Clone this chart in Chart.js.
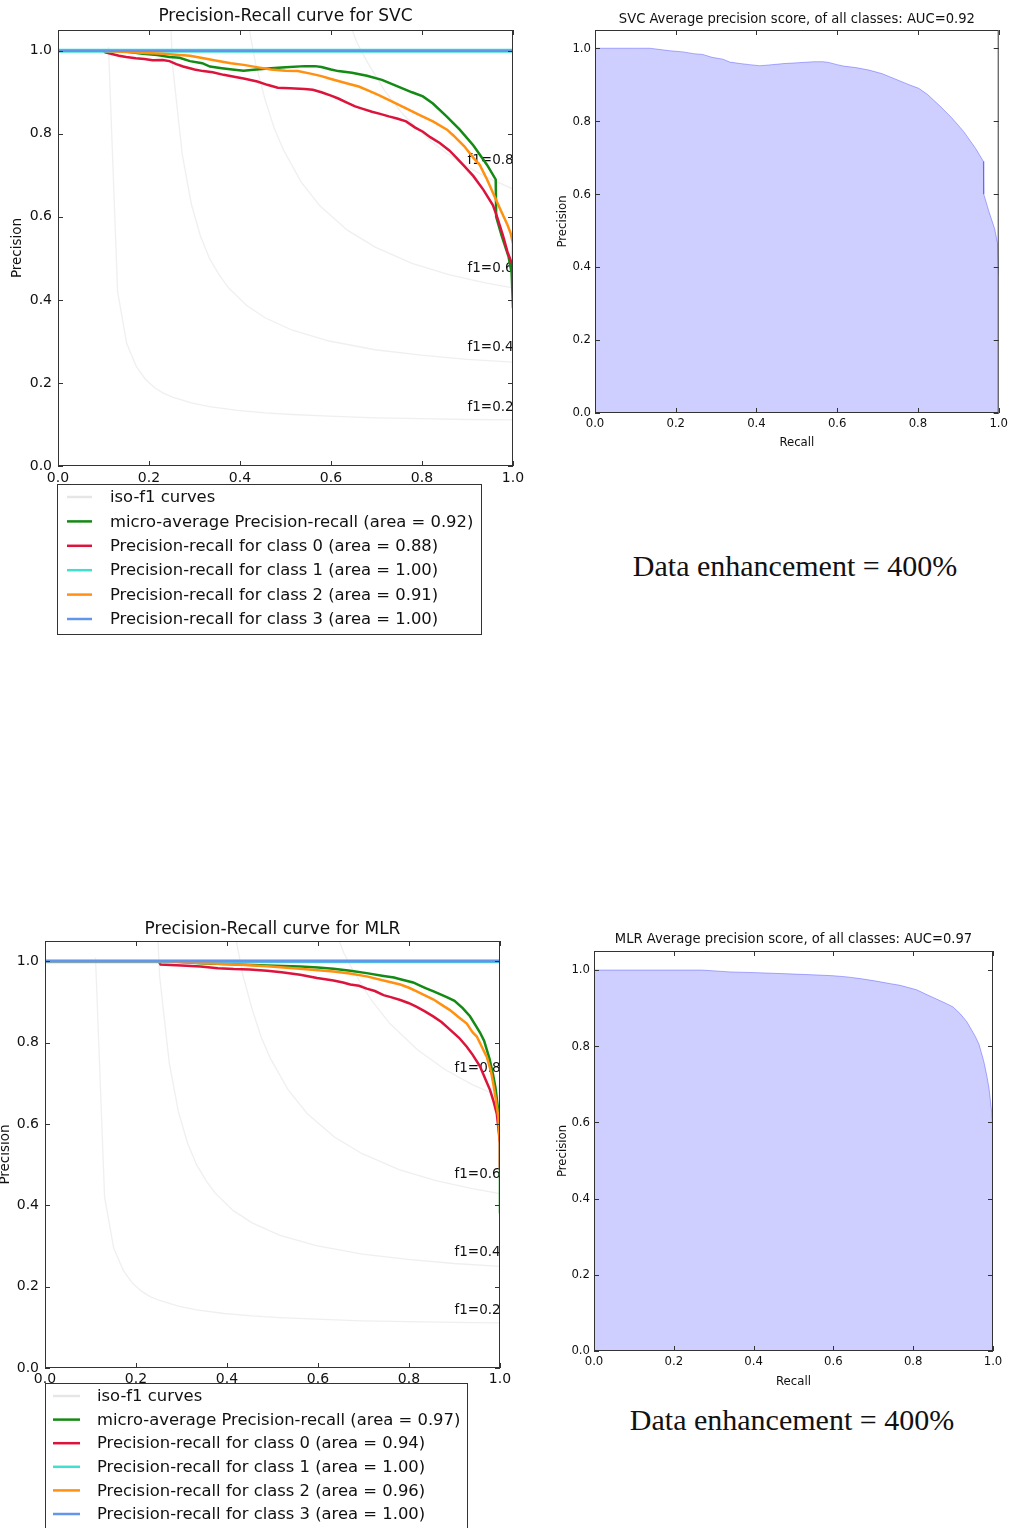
<!DOCTYPE html>
<html>
<head>
<meta charset="utf-8">
<script src="https://cdn.jsdelivr.net/npm/chart.js@4.4.1/dist/chart.umd.min.js"></script>
<style>
  body { margin: 0; background: #fff; }
  canvas { position: absolute; }
  .note {
    position: absolute; width: 400px; text-align: center;
    font-family: 'Liberation Serif', 'Times New Roman', serif;
    font-size: 30px; line-height: 34px; color: #111; white-space: nowrap;
  }
</style>
</head>
<body>
<canvas id="svcCurves" width="530" height="640" style="left:0;top:0"></canvas>
<canvas id="svcArea" width="471" height="460" style="left:540px;top:0"></canvas>
<canvas id="mlrCurves" width="520" height="618" style="left:0;top:910px"></canvas>
<canvas id="mlrArea" width="471" height="490" style="left:540px;top:910px"></canvas>
<div class="note" style="left:595px;top:549px">Data enhancement = 400%</div>
<div class="note" style="left:592px;top:1403px">Data enhancement = 400%</div>
<script>
// axis ticks (recall and precision share them)
const tickValues = [0, 0.2, 0.4, 0.6, 0.8, 1.0];

// iso-f1 curves, [recall, precision], same in both PR plots
const isoF1_02 = [[0.111,1.009],[0.131,0.42],[0.151,0.295],[0.172,0.24],[0.192,0.209],[0.212,0.189],[0.232,0.175],[0.252,0.166],[0.293,0.152],[0.333,0.143],[0.394,0.134],[0.455,0.128],[0.515,0.124],[0.596,0.12],[0.697,0.116],[0.798,0.114],[0.899,0.112],[1.0,0.111]];
const isoF1_04 = [[0.212,3.53],[0.232,1.44],[0.252,0.963],[0.273,0.751],[0.293,0.631],[0.313,0.554],[0.333,0.5],[0.354,0.461],[0.374,0.43],[0.414,0.387],[0.455,0.357],[0.515,0.327],[0.596,0.301],[0.697,0.28],[0.798,0.267],[0.899,0.257],[1.0,0.25]];
const isoF1_06 = [[0.313,7.2],[0.333,3.0],[0.354,1.98],[0.374,1.52],[0.394,1.26],[0.414,1.09],[0.434,0.97],[0.455,0.883],[0.475,0.814],[0.495,0.762],[0.535,0.683],[0.576,0.626],[0.636,0.568],[0.697,0.527],[0.778,0.488],[0.859,0.461],[0.939,0.441],[1.0,0.429]];
const isoF1_08 = [[0.414,11.7],[0.434,5.06],[0.455,3.33],[0.475,2.54],[0.495,2.08],[0.515,1.79],[0.535,1.58],[0.556,1.43],[0.576,1.31],[0.596,1.22],[0.616,1.14],[0.636,1.08],[0.657,1.02],[0.677,0.978],[0.717,0.905],[0.758,0.847],[0.818,0.783],[0.879,0.734],[0.939,0.697],[1.0,0.667]];
const isoLabels = ['f1=0.2', 'f1=0.4', 'f1=0.6', 'f1=0.8'];
const isoLabelY = [0.132, 0.276, 0.466, 0.728];
const isoLabelX = 0.9;

// SVC precision-recall, [recall, precision]
const svcMicro = [[0,1],[0.1,1],[0.136,1.0],[0.186,0.993],[0.218,0.99],[0.245,0.985],[0.267,0.983],[0.29,0.975],[0.317,0.97],[0.334,0.962],[0.36,0.958],[0.383,0.955],[0.408,0.952],[0.43,0.954],[0.468,0.958],[0.5,0.96],[0.542,0.963],[0.565,0.963],[0.579,0.961],[0.6,0.955],[0.616,0.951],[0.646,0.947],[0.679,0.94],[0.712,0.93],[0.745,0.915],[0.778,0.9],[0.802,0.89],[0.824,0.873],[0.854,0.842],[0.883,0.81],[0.913,0.772],[0.943,0.725],[0.962,0.69],[0.963,0.6],[0.975,0.555],[0.99,0.505],[0.997,0.465],[1.0,0.38]];
const svcClass0 = [[0,1],[0.1,1.0],[0.104,0.996],[0.134,0.988],[0.15,0.985],[0.171,0.982],[0.19,0.98],[0.208,0.977],[0.23,0.978],[0.245,0.975],[0.26,0.968],[0.275,0.962],[0.3,0.955],[0.319,0.951],[0.34,0.948],[0.364,0.942],[0.39,0.937],[0.408,0.933],[0.438,0.926],[0.46,0.918],[0.483,0.911],[0.51,0.91],[0.542,0.908],[0.56,0.906],[0.579,0.9],[0.6,0.892],[0.616,0.885],[0.635,0.875],[0.653,0.866],[0.67,0.86],[0.69,0.853],[0.708,0.848],[0.727,0.842],[0.745,0.837],[0.765,0.83],[0.785,0.815],[0.802,0.805],[0.818,0.792],[0.839,0.778],[0.86,0.76],[0.876,0.742],[0.893,0.722],[0.913,0.698],[0.935,0.665],[0.956,0.628],[0.965,0.6],[0.978,0.555],[0.988,0.515],[0.998,0.487],[1.0,0.47]];
const svcClass2 = [[0,1],[0.1,1.0],[0.17,0.996],[0.23,0.993],[0.29,0.988],[0.32,0.982],[0.349,0.976],[0.38,0.97],[0.408,0.966],[0.44,0.96],[0.468,0.955],[0.5,0.952],[0.527,0.951],[0.555,0.945],[0.579,0.939],[0.6,0.932],[0.616,0.927],[0.64,0.92],[0.661,0.914],[0.685,0.903],[0.705,0.893],[0.73,0.88],[0.765,0.861],[0.795,0.845],[0.824,0.83],[0.855,0.81],[0.869,0.796],[0.893,0.77],[0.913,0.742],[0.927,0.725],[0.943,0.69],[0.96,0.648],[0.973,0.616],[0.987,0.583],[0.995,0.56],[1.0,0.535],[1.0,0.5]];
const svcAreas = [0.92, 0.88, 1.00, 0.91, 1.00];

// MLR precision-recall, [recall, precision]
const mlrMicro = [[0,1],[0.27,1.0],[0.342,0.995],[0.41,0.993],[0.488,0.99],[0.561,0.987],[0.6,0.985],[0.634,0.982],[0.671,0.977],[0.707,0.971],[0.744,0.964],[0.767,0.96],[0.781,0.956],[0.809,0.948],[0.835,0.935],[0.854,0.926],[0.883,0.912],[0.9,0.903],[0.918,0.885],[0.934,0.865],[0.945,0.845],[0.956,0.825],[0.965,0.805],[0.977,0.76],[0.985,0.72],[0.99,0.69],[0.997,0.625],[1.0,0.57],[1.0,0.38]];
const mlrClass0 = [[0,1],[0.25,1.0],[0.254,0.992],[0.3,0.99],[0.342,0.987],[0.38,0.983],[0.415,0.981],[0.45,0.98],[0.488,0.977],[0.52,0.973],[0.561,0.967],[0.598,0.959],[0.634,0.953],[0.655,0.948],[0.671,0.943],[0.69,0.94],[0.707,0.933],[0.725,0.927],[0.744,0.917],[0.76,0.912],[0.781,0.905],[0.8,0.897],[0.817,0.888],[0.835,0.877],[0.854,0.864],[0.872,0.85],[0.89,0.832],[0.91,0.812],[0.927,0.79],[0.94,0.77],[0.956,0.742],[0.968,0.71],[0.978,0.684],[0.986,0.655],[0.993,0.625],[1.0,0.553],[1.0,0.488]];
const mlrClass2 = [[0,1],[0.27,1.0],[0.342,0.996],[0.42,0.992],[0.488,0.988],[0.56,0.982],[0.634,0.975],[0.67,0.97],[0.707,0.963],[0.744,0.953],[0.781,0.943],[0.8,0.935],[0.817,0.926],[0.835,0.916],[0.854,0.906],[0.872,0.893],[0.89,0.88],[0.91,0.862],[0.927,0.847],[0.94,0.825],[0.949,0.815],[0.96,0.79],[0.971,0.765],[0.98,0.73],[0.985,0.7],[0.991,0.66],[0.996,0.62],[1.0,0.553],[1.0,0.5]];
const mlrAreas = [0.97, 0.94, 1.00, 0.96, 1.00];

// classes 1 and 3 are perfect in both models
const perfectCurve = [[0,1],[1,1]];

const SANS = "'DejaVu Sans', sans-serif";
const COND = "'DejaVu Sans Condensed', 'Liberation Sans Narrow', 'DejaVu Sans', sans-serif";
const INK = '#111';

const pts = arr => arr.map(p => ({ x: p[0], y: p[1] }));

// matplotlib-style box: full frame plus inward ticks on all sides
const frame = {
  id: 'frame',
  afterDatasetsDraw(chart) {
    const { ctx, chartArea: a, scales } = chart;
    ctx.save();
    ctx.strokeStyle = '#333';
    ctx.lineWidth = 1;
    ctx.strokeRect(a.left + 0.5, a.top + 0.5, a.right - a.left - 1, a.bottom - a.top - 1);
    ctx.beginPath();
    scales.x.ticks.forEach(t => {
      const px = Math.round(scales.x.getPixelForValue(t.value)) + 0.5;
      ctx.moveTo(px, a.bottom); ctx.lineTo(px, a.bottom - 5);
      ctx.moveTo(px, a.top); ctx.lineTo(px, a.top + 5);
    });
    scales.y.ticks.forEach(t => {
      const py = Math.round(scales.y.getPixelForValue(t.value)) + 0.5;
      ctx.moveTo(a.left, py); ctx.lineTo(a.left + 5, py);
      ctx.moveTo(a.right, py); ctx.lineTo(a.right - 5, py);
    });
    ctx.stroke();
    ctx.restore();
  }
};

// title centred over the plot box, not the whole canvas
const plotTitle = {
  id: 'plotTitle',
  afterDraw(chart, args, o) {
    const { ctx, chartArea: a } = chart;
    ctx.save();
    ctx.font = `${o.size}px ${o.family}`;
    ctx.fillStyle = INK;
    ctx.textAlign = 'center';
    ctx.textBaseline = 'middle';
    ctx.fillText(o.text, (a.left + a.right) / 2, o.y);
    ctx.restore();
  }
};

// f1=... notes next to the iso curves, under the PR lines
const isoNotes = {
  id: 'isoNotes',
  beforeDatasetsDraw(chart) {
    const { ctx, scales } = chart;
    ctx.save();
    ctx.font = `13.5px ${SANS}`;
    ctx.fillStyle = INK;
    ctx.textBaseline = 'alphabetic';
    isoLabels.forEach((txt, i) => {
      ctx.fillText(txt, scales.x.getPixelForValue(isoLabelX), scales.y.getPixelForValue(isoLabelY[i]));
    });
    ctx.restore();
  }
};

// legend in a framed box under the plot
const boxLegend = {
  id: 'boxLegend',
  afterDraw(chart, args, o) {
    const { ctx, chartArea: a } = chart;
    const items = chart.data.datasets.filter(d => d.label);
    const left = a.left + o.dx, top = a.bottom + o.dy;
    const h = o.first * 2 + o.row * (items.length - 1) + 2;
    ctx.save();
    ctx.fillStyle = '#fff';
    ctx.fillRect(left, top + 1, o.width, h);
    ctx.strokeStyle = '#333';
    ctx.lineWidth = 1;
    ctx.strokeRect(left + 0.5, top + 0.5, o.width, h);
    ctx.font = `16.4px ${SANS}`;
    ctx.textBaseline = 'middle';
    items.forEach((d, i) => {
      const y = top + o.first + i * o.row;
      ctx.strokeStyle = d.legendColor || d.borderColor;
      ctx.lineWidth = 2.5;
      ctx.beginPath();
      ctx.moveTo(left + o.hx0, y); ctx.lineTo(left + o.hx1, y);
      ctx.stroke();
      ctx.fillStyle = INK;
      ctx.fillText(d.label, left + o.tx, y + 1);
    });
    ctx.restore();
  }
};

function axis(o) {
  return {
    type: 'linear', min: 0, max: o.max,
    afterBuildTicks: s => { s.ticks = tickValues.map(v => ({ value: v })); },
    afterFit: s => {
      if (o.width) s.width = o.width;
      if (o.height) s.height = o.height;
    },
    grid: { display: false, drawTicks: false, tickLength: 0 },
    border: { display: false },
    ticks: {
      color: INK, padding: o.pad, maxRotation: 0, autoSkip: false,
      font: { family: o.family, size: o.size },
      callback: v => Number(v).toFixed(1)
    },
    title: o.title
      ? { display: true, text: o.title, color: INK, font: { family: o.family, size: o.titleSize }, padding: o.titlePad }
      : { display: false }
  };
}

function curveSets(micro, c0, c2, areas) {
  const iso = [isoF1_02, isoF1_04, isoF1_06, isoF1_08].map((a, i) => ({
    label: i === 0 ? 'iso-f1 curves' : '',
    data: pts(a), borderColor: 'rgba(128,128,128,0.13)', legendColor: 'rgba(128,128,128,0.2)', borderWidth: 1.3, order: 10
  }));
  return iso.concat([
    { label: `micro-average Precision-recall (area = ${areas[0].toFixed(2)})`, data: pts(micro), borderColor: '#138a13', order: 5 },
    { label: `Precision-recall for class 0 (area = ${areas[1].toFixed(2)})`, data: pts(c0), borderColor: '#dc143c', order: 4 },
    { label: `Precision-recall for class 1 (area = ${areas[2].toFixed(2)})`, data: pts(perfectCurve), borderColor: '#40e0d0', borderWidth: 4, order: 3 },
    { label: `Precision-recall for class 2 (area = ${areas[3].toFixed(2)})`, data: pts(c2), borderColor: '#ff9010', order: 2 },
    { label: `Precision-recall for class 3 (area = ${areas[4].toFixed(2)})`, data: pts(perfectCurve), borderColor: '#6495ed', order: 1 }
  ]);
}

function curveChart(id, title, sets, L) {
  new Chart(document.getElementById(id), {
    type: 'line',
    data: { datasets: sets },
    options: {
      responsive: false, animation: false,
      layout: { padding: L.padding },
      elements: { point: { radius: 0 }, line: { tension: 0, borderWidth: 2.5 } },
      plugins: {
        legend: { display: false }, tooltip: { enabled: false }, title: { display: false },
        plotTitle: { text: title, family: SANS, size: 17, y: L.titleY },
        boxLegend: L.legend
      },
      scales: {
        x: axis({ max: 1, height: 22, pad: L.xPad, family: SANS, size: 14 }),
        y: axis({ max: 1.05, width: L.yWidth, pad: 6, family: SANS, size: 14, title: 'Precision', titleSize: 13.5, titlePad: { top: L.yTitlePad } })
      }
    },
    plugins: [frame, isoNotes, boxLegend, plotTitle]
  });
}

function areaChart(id, title, micro, L) {
  new Chart(document.getElementById(id), {
    type: 'line',
    data: {
      datasets: [{
        label: 'Precision', data: pts(micro), fill: 'origin',
        backgroundColor: 'rgba(0,0,255,0.19)', borderColor: 'rgba(0,0,255,0.3)', borderWidth: 1
      }]
    },
    options: {
      responsive: false, animation: false,
      layout: { padding: L.padding },
      elements: { point: { radius: 0 }, line: { tension: 0 } },
      plugins: {
        legend: { display: false }, tooltip: { enabled: false }, title: { display: false },
        plotTitle: { text: title, family: COND, size: 14.6, y: L.titleY }
      },
      scales: {
        x: axis({ max: 1, height: 40, pad: 3, family: COND, size: 13, title: 'Recall', titleSize: 13, titlePad: { bottom: L.xTitlePad } }),
        y: axis({ max: 1.05, width: L.yWidth, pad: 4, family: COND, size: 13, title: 'Precision', titleSize: 13, titlePad: { top: 15 } })
      }
    },
    plugins: [frame, plotTitle]
  });
}

curveChart('svcCurves', 'Precision-Recall curve for SVC', curveSets(svcMicro, svcClass0, svcClass2, svcAreas), {
  padding: { left: 0, top: 30, right: 17, bottom: 152 },
  titleY: 17,
  yWidth: 58, yTitlePad: 9, xPad: 4,
  legend: { dx: -1, dy: 18, width: 424, first: 13, row: 24.4, hx0: 10, hx1: 35, tx: 53 }
});

curveChart('mlrCurves', 'Precision-Recall curve for MLR', curveSets(mlrMicro, mlrClass0, mlrClass2, mlrAreas), {
  padding: { left: 0, top: 31, right: 20, bottom: 138 },
  titleY: 20,
  yWidth: 45, yTitlePad: -3, xPad: 3,
  legend: { dx: 0, dy: 15, width: 422, first: 13, row: 23.6, hx0: 8, hx1: 35, tx: 52 }
});

areaChart('svcArea', 'SVC Average precision score, of all classes: AUC=0.92', svcMicro, {
  padding: { left: 0, top: 30, right: 11, bottom: 7 },
  titleY: 19,
  yWidth: 55, xTitlePad: 2.2
});

areaChart('mlrArea', 'MLR Average precision score, of all classes: AUC=0.97', mlrMicro, {
  padding: { left: 0, top: 41, right: 18, bottom: 9 },
  titleY: 29,
  yWidth: 54, xTitlePad: 1.2
});
</script>
</body>
</html>
